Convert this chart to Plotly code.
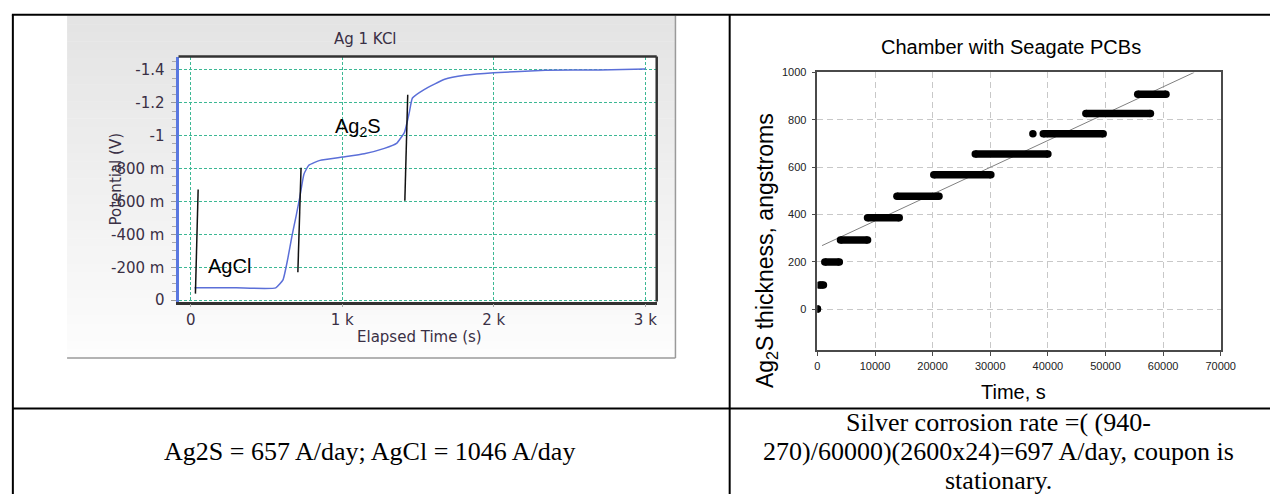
import plotly.graph_objects as go

W, H = 1285, 502

# ---------------- data: left chart (Ag 1 KCl) ----------------
curve_t = [25, 300, 561, 609, 640, 668, 695, 720, 747, 779, 853, 1000, 1145, 1278,
           1358, 1411, 1442, 1463, 1543, 1676, 1808, 2000, 2339, 2700, 3000]
curve_v = [-0.075, -0.075, -0.075, -0.124, -0.25, -0.39, -0.51, -0.627, -0.766, -0.82,
           -0.85, -0.87, -0.89, -0.923, -0.953, -1.022, -1.14, -1.229, -1.282, -1.343,
           -1.367, -1.383, -1.397, -1.40, -1.405]
tangent1_t = [31, 49]
tangent1_v = [-0.04, -0.673]
tangent2_t = [707, 728]
tangent2_v = [-0.17, -0.805]
tangent3_t = [1413, 1432]
tangent3_v = [-0.604, -1.249]
left_xtick_vals = [0, 1000, 2000, 3000]
left_xtick_text = ["0", "1 k", "2 k", "3 k"]
left_ytick_vals = [0, -0.2, -0.4, -0.6, -0.8, -1.0, -1.2, -1.4]
left_ytick_text = ["0", "-200 m", "-400 m", "-600 m", "-800 m", "-1", "-1.2", "-1.4"]

# ---------------- data: right chart (Chamber with Seagate PCBs) ----------------
step_y = [0, 101, 199, 292, 386, 477, 567, 655, 741, 826, 908]
step_start = [0, 370, 1280, 4000, 8700, 13800, 20200, 27400, 39200, 46600, 55600]
step_end = [0, 1040, 3800, 8700, 14200, 21100, 30100, 40000, 49600, 57800, 60500]
extra_x = [37400]
extra_y = [741]
trend_x = [800, 65400]
trend_y = [268, 1000]
right_xtick_vals = [0, 10000, 20000, 30000, 40000, 50000, 60000, 70000]
right_xtick_text = ["0", "10000", "20000", "30000", "40000", "50000", "60000", "70000"]
right_ytick_vals = [0, 200, 400, 600, 800, 1000]
right_ytick_text = ["0", "200", "400", "600", "800", "1000"]


def px(x):
    return x / W


def py(y):
    return 1 - y / H


fig = go.Figure()

# left chart traces
fig.add_trace(go.Scatter(x=curve_t, y=curve_v, mode="lines",
                         line=dict(color="#5b6fd8", width=1.5, shape="spline", smoothing=0.4),
                         xaxis="x", yaxis="y", showlegend=False, hoverinfo="skip"))
for tt, tv in [(tangent1_t, tangent1_v), (tangent2_t, tangent2_v), (tangent3_t, tangent3_v)]:
    fig.add_trace(go.Scatter(x=tt, y=tv, mode="lines",
                             line=dict(color="#111111", width=1.5),
                             xaxis="x", yaxis="y", showlegend=False, hoverinfo="skip"))

# right chart traces
seg_x, seg_y = [], []
for s, e, v in zip(step_start, step_end, step_y):
    seg_x += [s, e, None]
    seg_y += [v, v, None]
fig.add_trace(go.Scatter(x=trend_x, y=trend_y, mode="lines",
                         line=dict(color="#808080", width=1),
                         xaxis="x2", yaxis="y2", showlegend=False, hoverinfo="skip"))
fig.add_trace(go.Scatter(x=seg_x, y=seg_y, mode="lines",
                         line=dict(color="#000000", width=7.5),
                         xaxis="x2", yaxis="y2", showlegend=False, hoverinfo="skip"))
fig.add_trace(go.Scatter(x=step_start + step_end + extra_x, y=step_y + step_y + extra_y,
                         mode="markers", marker=dict(color="#000000", size=7.5),
                         xaxis="x2", yaxis="y2", showlegend=False, hoverinfo="skip"))

shapes = []
# gradient grey background of the left screenshot
n_bands = 40
top, bot = 10, 362
for i in range(n_bands):
    y0 = top + (bot - top) * i / n_bands
    y1 = top + (bot - top) * (i + 1) / n_bands + 0.5
    f = i / (n_bands - 1)
    g = int(228 + (253 - 228) * f)
    shapes.append(dict(type="rect", xref="paper", yref="paper", layer="below",
                       x0=px(65), x1=px(682), y0=py(y0), y1=py(y1),
                       line=dict(width=0), fillcolor=f"rgb({g},{g},{g})"))
# white plot area of left chart
shapes.append(dict(type="rect", xref="paper", yref="paper", layer="below",
                   x0=px(178), x1=px(663), y0=py(304), y1=py(52),
                   line=dict(width=0), fillcolor="white"))
# left screenshot border (right / bottom)
shapes.append(dict(type="line", xref="paper", yref="paper", x0=px(682), x1=px(682),
                   y0=py(10), y1=py(362), line=dict(color="#9a9a9a", width=1.5)))
shapes.append(dict(type="line", xref="paper", yref="paper", x0=px(65), x1=px(682),
                   y0=py(362), y1=py(362), line=dict(color="#9a9a9a", width=1.5)))
# left plot frame: top / right dark
shapes.append(dict(type="line", xref="x domain", yref="y domain", x0=0, x1=1, y0=1, y1=1,
                   line=dict(color="#333333", width=2.5)))
shapes.append(dict(type="line", xref="x domain", yref="y domain", x0=1, x1=1, y0=0, y1=1,
                   line=dict(color="#333333", width=2.5)))

# table lines
tl = dict(color="black", width=2)
shapes.append(dict(type="line", xref="paper", yref="paper", x0=px(9), x1=px(1285),
                   y0=py(9), y1=py(9), line=tl))
shapes.append(dict(type="line", xref="paper", yref="paper", x0=px(10), x1=px(10),
                   y0=py(9), y1=py(502), line=tl))
shapes.append(dict(type="line", xref="paper", yref="paper", x0=px(737), x1=px(737),
                   y0=py(9), y1=py(502), line=tl))
shapes.append(dict(type="line", xref="paper", yref="paper", x0=px(10), x1=px(1285),
                   y0=py(414), y1=py(414), line=tl))

left_font = dict(family="DejaVu Sans", size=15, color="#3a3045")
right_tick_font = dict(family="Liberation Sans, Arial", size=11, color="#222222")
serif = dict(family="Liberation Serif, Times New Roman", size=26, color="black")

annotations = [
    dict(text="Ag 1 KCl", x=px(368), y=py(34), xref="paper", yref="paper",
         showarrow=False, font=left_font, xanchor="center", yanchor="middle"),
    dict(text="Elapsed Time (s)", x=px(422), y=py(340), xref="paper", yref="paper",
         showarrow=False, font=left_font, xanchor="center", yanchor="middle"),
    dict(text="Potential (V)", x=px(115), y=py(178), xref="paper", yref="paper",
         showarrow=False, font=left_font, textangle=-90, xanchor="center", yanchor="middle"),
    dict(text="AgCl", x=256, y=-0.205, xref="x", yref="y", showarrow=False,
         font=dict(family="Liberation Sans, Arial", size=20, color="black")),
    dict(text="Ag<sub>2</sub>S", x=1105, y=-1.05, xref="x", yref="y", showarrow=False,
         font=dict(family="Liberation Sans, Arial", size=20, color="black")),
    dict(text="Chamber with Seagate PCBs", x=px(1022), y=py(42), xref="paper", yref="paper",
         showarrow=False, font=dict(family="Liberation Sans, Arial", size=20, color="black"),
         xanchor="center", yanchor="middle"),
    dict(text="Ag<sub>2</sub>S thickness, angstroms", x=px(775), y=py(252),
         xref="paper", yref="paper", showarrow=False, textangle=-90,
         font=dict(family="Liberation Sans, Arial", size=23, color="black"),
         xanchor="center", yanchor="middle"),
    dict(text="Time, s", x=px(1025), y=py(397), xref="paper", yref="paper",
         showarrow=False, font=dict(family="Liberation Sans, Arial", size=20, color="black"),
         xanchor="center", yanchor="middle"),
    dict(text="Ag2S = 657 A/day; AgCl = 1046 A/day", x=px(372), y=py(458),
         xref="paper", yref="paper", showarrow=False, font=serif,
         xanchor="center", yanchor="middle"),
    dict(text="Silver corrosion rate =( (940-", x=px(1010), y=py(428),
         xref="paper", yref="paper", showarrow=False, font=serif,
         xanchor="center", yanchor="middle"),
    dict(text="270)/60000)(2600x24)=697 A/day, coupon is", x=px(1010), y=py(458),
         xref="paper", yref="paper", showarrow=False, font=serif,
         xanchor="center", yanchor="middle"),
    dict(text="stationary.", x=px(1010), y=py(488),
         xref="paper", yref="paper", showarrow=False, font=serif,
         xanchor="center", yanchor="middle"),
]

fig.update_layout(
    width=W, height=H,
    margin=dict(l=0, r=0, t=0, b=0),
    paper_bgcolor="white", plot_bgcolor="rgba(0,0,0,0)",
    shapes=shapes, annotations=annotations,
    xaxis=dict(domain=[px(178), px(663)], anchor="y", range=[-80.6, 3075],
               tickvals=left_xtick_vals, ticktext=left_xtick_text,
               showgrid=True, gridcolor="#3cb894", griddash="3px,2px", gridwidth=1,
               zeroline=False, showline=True, linecolor="#333333", linewidth=2.5,
               ticks="outside", ticklen=3, tickcolor="#aaaaaa",
               tickfont=left_font, ticklabelstandoff=0, fixedrange=True),
    yaxis=dict(domain=[py(304), py(52)], anchor="x", range=[0.008, -1.481],
               tickvals=left_ytick_vals, ticktext=left_ytick_text,
               showgrid=True, gridcolor="#3cb894", griddash="3px,2px", gridwidth=1,
               zeroline=False, showline=True, linecolor="#5a78e0", linewidth=3,
               ticks="outside", ticklen=5, tickcolor="#999999",
               minor=dict(dtick=0.05, ticks="outside", ticklen=4, tickcolor="#aaaaaa",
                          showgrid=False),
               tickfont=left_font, ticklabelstandoff=3, fixedrange=True),
    xaxis2=dict(domain=[px(826), px(1235)], anchor="y2", range=[0, 70000],
                tickvals=right_xtick_vals, ticktext=right_xtick_text,
                showgrid=True, gridcolor="#c8c8c8", griddash="6px,4px", gridwidth=1,
                zeroline=False, showline=True, linecolor="#4a4a4a", linewidth=1.5,
                mirror=True, ticks="outside", ticklen=4, tickcolor="#4a4a4a",
                tickfont=right_tick_font, ticklabelstandoff=1, fixedrange=True),
    yaxis2=dict(domain=[py(354.3), py(68.3)], anchor="x2", range=[-175, 1000],
                tickvals=right_ytick_vals, ticktext=right_ytick_text,
                showgrid=True, gridcolor="#c8c8c8", griddash="6px,4px", gridwidth=1,
                zeroline=False, showline=True, linecolor="#4a4a4a", linewidth=1.5,
                mirror=True, ticks="outside", ticklen=4, tickcolor="#4a4a4a",
                tickfont=right_tick_font, ticklabelstandoff=3, fixedrange=True),
)

fig.write_html("out.html", config={"displayModeBar": False},
               post_script="document.body.style.margin='0';document.body.style.padding='0';")
